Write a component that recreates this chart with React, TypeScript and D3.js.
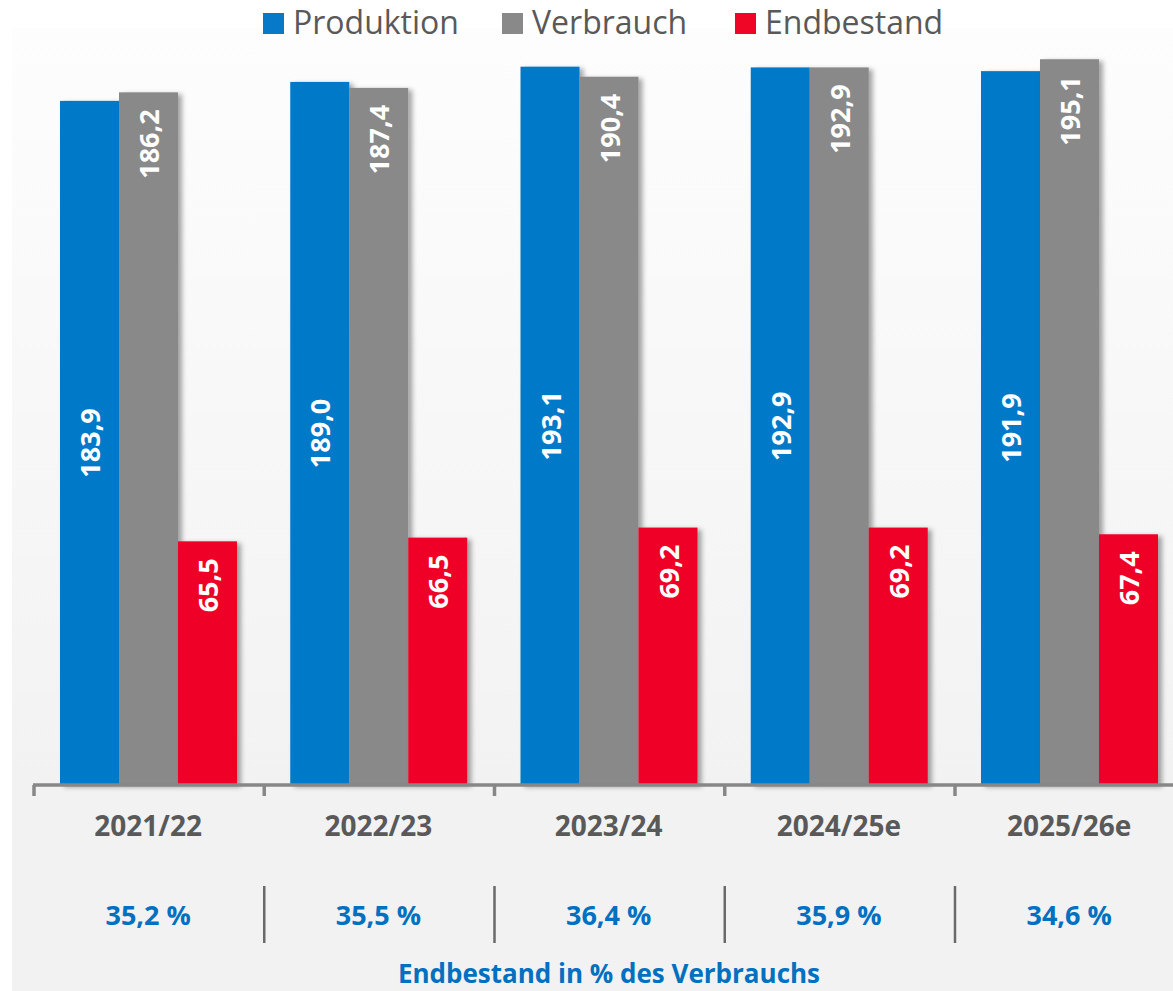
import React from "react";
import * as d3 from "d3";

const categories = ["2021/22", "2022/23", "2023/24", "2024/25e", "2025/26e"];
const produktion = [183.9, 189.0, 193.1, 192.9, 191.9];
const verbrauch = [186.2, 187.4, 190.4, 192.9, 195.1];
const endbestand = [65.5, 66.5, 69.2, 69.2, 67.4];
const percentOfUse = [35.2, 35.5, 36.4, 35.9, 34.6];
const seriesNames = ["Produktion", "Verbrauch", "Endbestand"];
const seriesColors = ["#0679C8", "#898989", "#EF0626"];
const footerText = "Endbestand in % des Verbrauchs";

const W = 1173;
const H = 991;
const FONT = "'Open Sans', 'Noto Sans', sans-serif";

const locale = d3.formatLocale({ decimal: ",", thousands: ".", grouping: [3], currency: ["", "€"] });
const fmt = locale.format(".1f");

export default function App() {
  React.useEffect(() => {
    document.body.style.margin = "0";
  }, []);

  const x = d3.scaleBand<string>().domain(categories).range([33, 33 + 5 * 230.25]).paddingInner(0).paddingOuter(0);
  const inner = d3.scaleBand<string>().domain(seriesNames).range([27, 27 + 177]).padding(0);
  const y = d3.scaleLinear().domain([0, 200]).range([785, 41]);
  const baseY = y(0);

  const series = [produktion, verbrauch, endbestand];
  const legendX = [263, 502, 735];

  return (
    <div style={{ position: "absolute", left: 0, top: 0 }}>
      <svg width={W} height={H} style={{ display: "block" }} fontFamily={FONT}>
        <defs>
          <linearGradient id="bg" gradientUnits="userSpaceOnUse" x1="0" y1="28" x2="0" y2="785">
            <stop offset="0" stopColor="#fdfdfd" />
            <stop offset="1" stopColor="#f2f2f2" />
          </linearGradient>
          <filter id="shadow" x="-20%" y="-5%" width="150%" height="115%">
            <feDropShadow dx="4" dy="2" stdDeviation="2.5" floodColor="#000" floodOpacity="0.35" />
          </filter>
        </defs>
        <rect x={0} y={0} width={W} height={H} fill="#ffffff" />
        <rect x={12} y={28} width={W - 12} height={baseY - 28} fill="url(#bg)" />
        <rect x={12} y={baseY} width={W - 12} height={H - baseY} fill="#f2f2f2" />

        {/* legend */}
        {seriesNames.map((n, i) => (
          <g key={n}>
            <rect x={legendX[i]} y={13} width={21} height={21} fill={seriesColors[i]} />
            <text x={legendX[i] + 30} y={34} fontSize={32} fill="#595959">
              {n}
            </text>
          </g>
        ))}

        {/* bars */}
        {categories.map((c, ci) => (
          <g key={c} transform={`translate(${x(c)},0)`}>
            {seriesNames.map((s, si) => {
              const v = series[si][ci];
              const bx = inner(s) as number;
              const bw = inner.bandwidth();
              const top = y(v);
              return (
                <rect
                  key={s}
                  x={bx}
                  y={top}
                  width={bw}
                  height={baseY - top}
                  fill={seriesColors[si]}
                  filter="url(#shadow)"
                />
              );
            })}
            {seriesNames.map((s, si) => {
              const v = series[si][ci];
              const bx = inner(s) as number;
              const bw = inner.bandwidth();
              const top = y(v);
              const cx = bx + bw / 2;
              const isMid = si === 0;
              const ty = isMid ? (top + baseY) / 2 : top + 17;
              return (
                <text
                  key={s + "l"}
                  transform={`translate(${cx},${ty}) rotate(-90)`}
                  textAnchor={isMid ? "middle" : "end"}
                  dominantBaseline="central"
                  fontSize={27}
                  fontWeight="bold"
                  fill="#ffffff"
                >
                  {fmt(v)}
                </text>
              );
            })}
          </g>
        ))}

        {/* axis */}
        <line x1={33} x2={W} y1={baseY} y2={baseY} stroke="#878787" strokeWidth={3.5} />
        {categories.map((c) => (
          <line
            key={c + "t"}
            x1={(x(c) as number) + 1}
            x2={(x(c) as number) + 1}
            y1={baseY}
            y2={baseY + 11}
            stroke="#878787"
            strokeWidth={3.5}
          />
        ))}

        {/* category labels */}
        {categories.map((c) => (
          <text
            key={c + "c"}
            x={(x(c) as number) + x.bandwidth() / 2}
            y={836}
            textAnchor="middle"
            fontSize={28}
            fontWeight="bold"
            fill="#595959"
          >
            {c}
          </text>
        ))}

        {/* separators */}
        {categories.slice(1).map((c) => (
          <line
            key={c + "s"}
            x1={(x(c) as number) + 1}
            x2={(x(c) as number) + 1}
            y1={886}
            y2={943}
            stroke="#6a6a6a"
            strokeWidth={2.5}
          />
        ))}

        {/* percent labels */}
        {categories.map((c, ci) => (
          <text
            key={c + "p"}
            x={(x(c) as number) + x.bandwidth() / 2}
            y={925}
            textAnchor="middle"
            fontSize={27}
            fontWeight="bold"
            fill="#0070C0"
          >
            {fmt(percentOfUse[ci]) + " %"}
          </text>
        ))}

        <text x={609} y={983} textAnchor="middle" fontSize={26} fontWeight="bold" fill="#0070C0">
          {footerText}
        </text>
      </svg>
    </div>
  );
}
